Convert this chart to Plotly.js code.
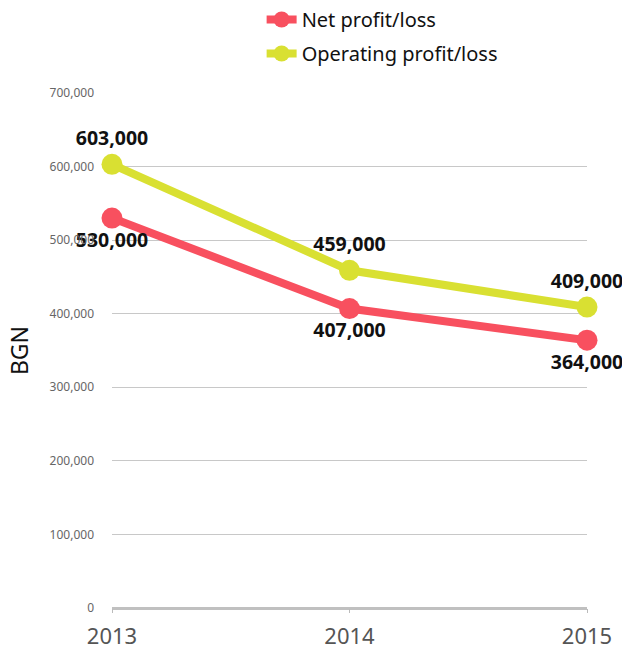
<!DOCTYPE html>
<html><head><meta charset="utf-8">
<script src="https://cdn.plot.ly/plotly-3.0.1.min.js"></script>
<style>html,body{margin:0;padding:0;background:#fff}#chart{width:622px;height:650px}</style>
</head><body><div id="chart"></div>
<script>
const years = [2013, 2014, 2015];
const netProfit = [530000, 407000, 364000];
const operatingProfit = [603000, 459000, 409000];
const yTickVals = [0, 100000, 200000, 300000, 400000, 500000, 600000, 700000];
const yTickText = ["0", "100,000", "200,000", "300,000", "400,000", "500,000", "600,000", "700,000"];
const fmt = v => v.toLocaleString('en-US');

const font = "Noto Sans, Open Sans, sans-serif";
const traces = [
  {
    x: years, y: netProfit, name: "Net profit/loss", type: "scatter", mode: "lines+markers+text",
    legendgroup: "a",
    line: {color: "#F8505F", width: 8}, marker: {color: "#F8505F", size: 21},
    text: netProfit.map(fmt), textposition: "bottom center",
    textfont: {family: font, size: 19.5, color: "#111", weight: "bold"}, cliponaxis: false
  },
  {
    x: years, y: operatingProfit, name: "Operating profit/loss", type: "scatter", mode: "lines+markers+text",
    legendgroup: "b",
    line: {color: "#D9E032", width: 8}, marker: {color: "#D9E032", size: 21},
    text: operatingProfit.map(fmt), textposition: "top center",
    textfont: {family: font, size: 19.5, color: "#111", weight: "bold"}, cliponaxis: false
  }
];
const layout = {
  width: 622, height: 650,
  margin: {l: 112, r: 35, t: 93, b: 42},
  paper_bgcolor: "#fff", plot_bgcolor: "#fff",
  font: {family: font, color: "#111"},
  showlegend: true,
  legend: {x: 0.315, xanchor: "left", yref: "container", y: 1.002, yanchor: "top",
    font: {size: 20, color: "#111"}, tracegroupgap: 5, itemwidth: 30},
  xaxis: {
    range: [2013, 2015], tickvals: years, ticktext: years.map(String),
    showgrid: false, zeroline: false, showline: false,
    ticks: "outside", ticklen: 4, tickcolor: "#bbb",
    tickfont: {size: 22, color: "#555"}, ticklabelstandoff: 5
  },
  yaxis: {
    range: [0, 700000], tickvals: yTickVals, ticktext: yTickText,
    showgrid: true, gridcolor: "#c8c8c8", gridwidth: 1,
    zeroline: true, zerolinecolor: "#c0c0c0", zerolinewidth: 3,
    tickfont: {size: 12, color: "#666"}, ticks: "", ticklabelstandoff: 17,
    title: {text: "BGN", font: {size: 23, color: "#111"}, standoff: 14}
  }
};
Plotly.newPlot("chart", traces, layout, {displayModeBar: false});
</script></body></html>
